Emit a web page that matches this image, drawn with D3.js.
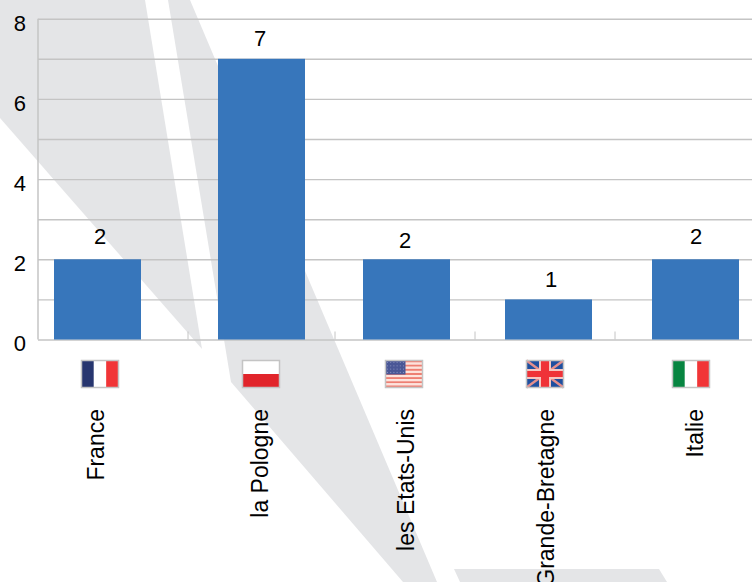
<!DOCTYPE html>
<html>
<head>
<meta charset="utf-8">
<style>
html, body { margin: 0; padding: 0; background: #fff; }
svg { display: block; }
text { font-family: "Liberation Sans", Arial, sans-serif; fill: #000; }
</style>
<script src="https://d3js.org/d3.v7.min.js"></script>
</head>
<body>
<svg id="chart" width="752" height="582"></svg>
<script>
// chart values
var countries = ["France", "la Pologne", "les Etats-Unis", "Grande-Bretagne", "Italie"];
var flags = ["fr", "pl", "us", "gb", "it"];
var values = [2, 7, 2, 1, 2];
var yTicks = [0, 1, 2, 3, 4, 5, 6, 7, 8];

// layout, the bars in the original are not evenly spaced
var barCenters = [97.5, 261.5, 406.5, 548.5, 695.5];
var labelCenters = [100, 260, 405, 551, 696];
var labelLifts = [15, 12.5, 11, 12, 15];
var flagCenters = [100, 261, 404, 545, 691];
var nameCenters = [96, 260, 406, 546, 695];
var separators = [188, 335, 475, 615];
var barWidth = 87;

var backdrop = [
	[[0, 0], [145, 0], [202, 349], [0, 118]],
	[[168, 0], [190, 0], [437, 582], [403, 582], [231, 382]],
	[[454, 569], [659, 569], [667, 582], [460, 582]]
];

var svg = d3.select("#chart");
var x = d3.scaleOrdinal().domain(countries).range(barCenters);
var xLabel = d3.scaleOrdinal().domain(countries).range(labelCenters);
var xFlag = d3.scaleOrdinal().domain(flags).range(flagCenters);
var xName = d3.scaleOrdinal().domain(countries).range(nameCenters);
var y = d3.scaleLinear().domain([0, 8]).range([339.5, 18.7]);
var left = 38, right = 752;

//grey shapes behind everything
svg.append("g").selectAll("polygon")
	.data(backdrop)
	.join("polygon")
	.attr("points", function(d){ return d.join(" "); })
	.attr("fill", "#e4e5e7");

//y axis with a grid line on every unit and a label on every second one
var yAxis = d3.axisLeft(y)
	.tickValues(yTicks)
	.tickSize(-(right - left))
	.tickFormat(function(d){ return d % 2 ? "" : d; });
var yG = svg.append("g")
	.attr("transform", "translate(" + left + ",0)")
	.call(yAxis);
yG.select(".domain").attr("stroke", "#c4c4c4").attr("stroke-width", 1.5).attr("d", "M0," + y(8) + "V" + y(0));
yG.selectAll(".tick line").attr("stroke", "#c4c4c4").attr("stroke-width", 1.4);
yG.selectAll(".tick text")
	.attr("x", -12)
	.attr("dy", "11.3px")
	.style("font-size", "22px")
	.style("font-family", '"Liberation Sans", Arial, sans-serif');

//little ticks between the categories
svg.append("g").selectAll("line")
	.data(separators)
	.join("line")
	.attr("x1", function(d){ return d; })
	.attr("x2", function(d){ return d; })
	.attr("y1", y(0) - 8)
	.attr("y2", y(0))
	.attr("stroke", "#c4c4c4")
	.attr("stroke-width", 1);

//bars
svg.append("g").selectAll("rect")
	.data(countries)
	.join("rect")
	.attr("x", function(d){ return x(d) - barWidth / 2; })
	.attr("y", function(d, i){ return y(values[i]); })
	.attr("width", barWidth)
	.attr("height", function(d, i){ return y(0) - y(values[i]); })
	.attr("fill", "#3776bb");

//value labels
svg.append("g").selectAll("text")
	.data(countries)
	.join("text")
	.attr("x", function(d){ return xLabel(d); })
	.attr("y", function(d, i){ return y(values[i]) - labelLifts[i]; })
	.attr("text-anchor", "middle")
	.style("font-size", "22px")
	.text(function(d, i){ return values[i]; });

//rotated names
svg.append("g").selectAll("text")
	.data(countries)
	.join("text")
	.attr("transform", function(d){ return "translate(" + (xName(d) + 8) + ",409) rotate(-90)"; })
	.attr("text-anchor", "end")
	.style("font-size", "23px")
	.text(function(d){ return d; });

// FLAGS
var flagW = 37, flagH = 27;
function stripesV(g, cols){
	g.selectAll("rect.s").data(cols).join("rect").attr("class", "s")
		.attr("x", function(d, i){ return i * flagW / cols.length; })
		.attr("width", flagW / cols.length).attr("height", flagH)
		.attr("fill", function(d){ return d; });
}
function stripesH(g, cols){
	g.selectAll("rect.s").data(cols).join("rect").attr("class", "s")
		.attr("y", function(d, i){ return i * flagH / cols.length; })
		.attr("width", flagW).attr("height", flagH / cols.length)
		.attr("fill", function(d){ return d; });
}
var painters = {
	fr: function(g){ stripesV(g, ["#27366f", "#ffffff", "#f13537"]); },
	pl: function(g){ stripesH(g, ["#ffffff", "#e1252b"]); },
	it: function(g){ stripesV(g, ["#078541", "#ffffff", "#f13537"]); },
	us: function(g){
		stripesH(g, d3.range(13).map(function(i){ return i % 2 ? "#fde3dc" : "#ee7f72"; }));
		g.append("rect").attr("width", 20).attr("height", 14).attr("fill", "#4a5796");
		g.selectAll("circle").data(d3.cross(d3.range(6), d3.range(4))).join("circle")
			.attr("cx", function(d){ return 2 + d[0] * 3.2; })
			.attr("cy", function(d){ return 2 + d[1] * 3.3; })
			.attr("r", 0.6).attr("fill", "#8890bd");
	},
	gb: function(g){
		g.append("rect").attr("width", flagW).attr("height", flagH).attr("fill", "#1f4f9f");
		[[0, 0, flagW, flagH], [flagW, 0, 0, flagH]].forEach(function(l){
			g.append("line").attr("x1", l[0]).attr("y1", l[1]).attr("x2", l[2]).attr("y2", l[3])
				.attr("stroke", "#e58f8c").attr("stroke-width", 2.5);
		});
		g.append("rect").attr("x", flagW / 2 - 6).attr("width", 12).attr("height", flagH).attr("fill", "#f7c6c0");
		g.append("rect").attr("y", flagH / 2 - 5).attr("width", flagW).attr("height", 10).attr("fill", "#f7c6c0");
		g.append("rect").attr("x", flagW / 2 - 4).attr("width", 8).attr("height", flagH).attr("fill", "#ef3338");
		g.append("rect").attr("y", flagH / 2 - 3).attr("width", flagW).attr("height", 6).attr("fill", "#ef3338");
	}
};
flags.forEach(function(f){
	var g = svg.append("g").attr("transform", "translate(" + (xFlag(f) - flagW / 2) + ",360.5)");
	painters[f](g);
	g.append("rect")
		.attr("width", flagW).attr("height", flagH)
		.attr("fill", "none").attr("stroke", "#c4c4c4").attr("stroke-width", 1.5);
});
</script>
</body>
</html>
